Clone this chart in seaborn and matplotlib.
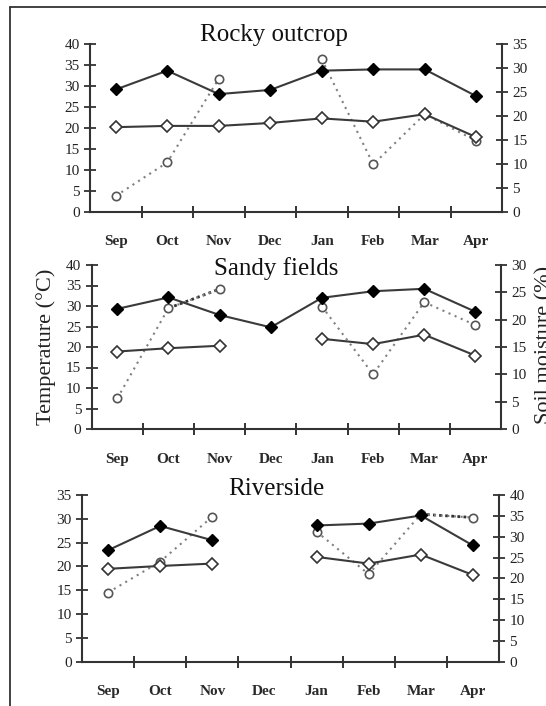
import numpy as np
import pandas as pd
import matplotlib
matplotlib.use("Agg")
import matplotlib.pyplot as plt
from matplotlib.lines import Line2D
from matplotlib.ticker import FixedLocator, MultipleLocator
import seaborn as sns

nan = np.nan
months = ['Sep', 'Oct', 'Nov', 'Dec', 'Jan', 'Feb', 'Mar', 'Apr']
sites = ['Rocky outcrop', 'Sandy fields', 'Riverside']

rocky_tmax = [29.2, 33.7, 28.1, 29.1, 33.7, 34.0, 34.0, 27.6]
rocky_tmin = [20.2, 20.5, 20.5, 21.2, 22.3, 21.5, 23.3, 17.8]
rocky_moist = [3.3, 10.3, 27.8, nan, 31.9, 9.9, 20.4, 14.8]

sandy_tmax = [29.3, 32.1, 27.8, 24.8, 32.0, 33.6, 34.2, 28.6]
sandy_tmin = [18.9, 19.7, 20.3, nan, 22.0, 20.7, 23.0, 17.9]
sandy_moist = [5.6, 22.1, 25.6, nan, 22.4, 10.0, 23.2, 19.0]

river_tmax = [23.4, 28.5, 25.5, nan, 28.6, 29.0, 30.7, 24.4]
river_tmin = [19.5, 20.1, 20.6, nan, 22.0, 20.6, 22.5, 18.2]
river_moist = [16.6, 24.0, 34.8, nan, 31.2, 21.0, 35.4, 34.6]

temp_max_ticks = [40, 40, 35]
moist_max_ticks = [35, 30, 40]
# month index pairs whose moisture segment is drawn with a denser dotted line
dense_pairs = [None, (1, 2), (6, 7)]

sns.set_theme(style="white")
plt.rcParams['font.family'] = ['Liberation Serif', 'DejaVu Serif']

W, H = 546, 706
fig = plt.figure(figsize=(W / 100, H / 100), dpi=100)

# panel geometry in pixels: left, right, y of 0, y of top
geo = [(90, 502, 211.7, 44.3), (91.7, 501, 429, 265), (82, 499, 661.7, 495)]
title_pos = [(273.5, 41), (276.5, 274.6), (276.5, 494.8)]

data = [(rocky_tmax, rocky_tmin, rocky_moist),
        (sandy_tmax, sandy_tmin, sandy_moist),
        (river_tmax, river_tmin, river_moist)]

dark = '#3a3a3a'
grey = '#808080'


def segments(vals):
    rows, seg, prev = [], 0, False
    for i, v in enumerate(vals):
        if np.isnan(v):
            if prev:
                seg += 1
            prev = False
            continue
        rows.append((i, v, seg))
        prev = True
    return pd.DataFrame(rows, columns=['x', 'y', 'seg'])


for k in range(3):
    l, r, y0, yt = geo[k]
    ax = fig.add_axes([l / W, 1 - y0 / H, (r - l) / W, (y0 - yt) / H])
    ax2 = ax.twinx()
    tmax, tmin, moist = data[k]

    dm = segments(moist)
    sns.lineplot(data=dm, x='x', y='y', units='seg', estimator=None, ax=ax2,
                 color=grey, linestyle=(0, (1, 2.2)), linewidth=1.5,
                 marker='o', markersize=6, markerfacecolor='white',
                 markeredgecolor='#555555', markeredgewidth=1.2,
                 legend=False, sort=False, zorder=3)
    if dense_pairs[k] is not None:
        a, b = dense_pairs[k]
        sub = dm[(dm['x'] >= a) & (dm['x'] <= b)]
        sns.lineplot(data=sub, x='x', y='y', estimator=None, ax=ax2,
                     color='#333333', linestyle=(0, (1, 1.2)), linewidth=2.0,
                     legend=False, sort=False, zorder=2)

    dn = segments(tmin)
    sns.lineplot(data=dn, x='x', y='y', units='seg', estimator=None, ax=ax,
                 color=dark, linewidth=1.5, marker='D', markersize=6,
                 markerfacecolor='white', markeredgecolor='#333333',
                 markeredgewidth=1.2, legend=False, sort=False, zorder=3)
    dx = segments(tmax)
    sns.lineplot(data=dx, x='x', y='y', units='seg', estimator=None, ax=ax,
                 color=dark, linewidth=1.5, marker='D', markersize=6,
                 markerfacecolor='black', markeredgecolor='black',
                 markeredgewidth=1.0, legend=False, sort=False, zorder=3)

    ax.set_zorder(ax2.get_zorder() + 1)
    ax.patch.set_visible(False)

    ax.set_xlim(-0.5, 7.5)
    ax.set_ylim(0, temp_max_ticks[k])
    ax2.set_ylim(0, moist_max_ticks[k])
    ax.yaxis.set_major_locator(MultipleLocator(5))
    ax2.yaxis.set_major_locator(MultipleLocator(5))
    ax.set_xticks(range(8))
    ax.set_xticklabels(months, fontweight='bold', fontsize=11, color='#2a2a2a')
    ax.xaxis.set_minor_locator(FixedLocator([i + 0.5 for i in range(7)]))
    ax.tick_params(axis='x', which='major', length=0, pad=17)
    ax.tick_params(axis='x', which='minor', direction='inout', length=8,
                   width=1.4, color='#333333', bottom=True)
    ax.tick_params(axis='y', direction='inout', length=9, width=1.3,
                   color='#333333', labelsize=11, labelcolor='#222222', pad=3,
                   left=True)
    ax2.tick_params(axis='y', direction='inout', length=9, width=1.3,
                    color='#333333', labelsize=11, labelcolor='#222222', pad=3,
                    right=True)
    ax.set_xlabel('')
    ax.set_ylabel('')
    ax2.set_ylabel('')
    for a in (ax, ax2):
        for s in a.spines.values():
            s.set_color('#333333')
            s.set_linewidth(1.5)
        a.spines['top'].set_visible(False)
    ax.spines['right'].set_visible(False)
    ax2.spines['left'].set_visible(False)
    ax2.spines['bottom'].set_visible(False)
    ax.grid(False)
    ax2.grid(False)

    tx, ty = title_pos[k]
    fig.text(tx / W, 1 - ty / H, sites[k], ha='center', va='baseline',
             fontsize=18, color='#111111')

fig.text(46 / W, 1 - 347 / H, 'Temperature (°C)', rotation=90,
         ha='center', va='center', fontsize=16, color='#222222')
fig.text(535 / W, 1 - 345 / H, 'Soil moisture (%)', rotation=90,
         ha='left', va='center', fontsize=16, color='#222222')

# outer frame
x0 = 10 / W
ytop = 1 - 7 / H
fig.add_artist(Line2D([x0, x0], [0, ytop], color='#333333', lw=1.3))
fig.add_artist(Line2D([x0, 1], [ytop, ytop], color='#333333', lw=1.3))

fig.savefig('out.png', dpi=100)
